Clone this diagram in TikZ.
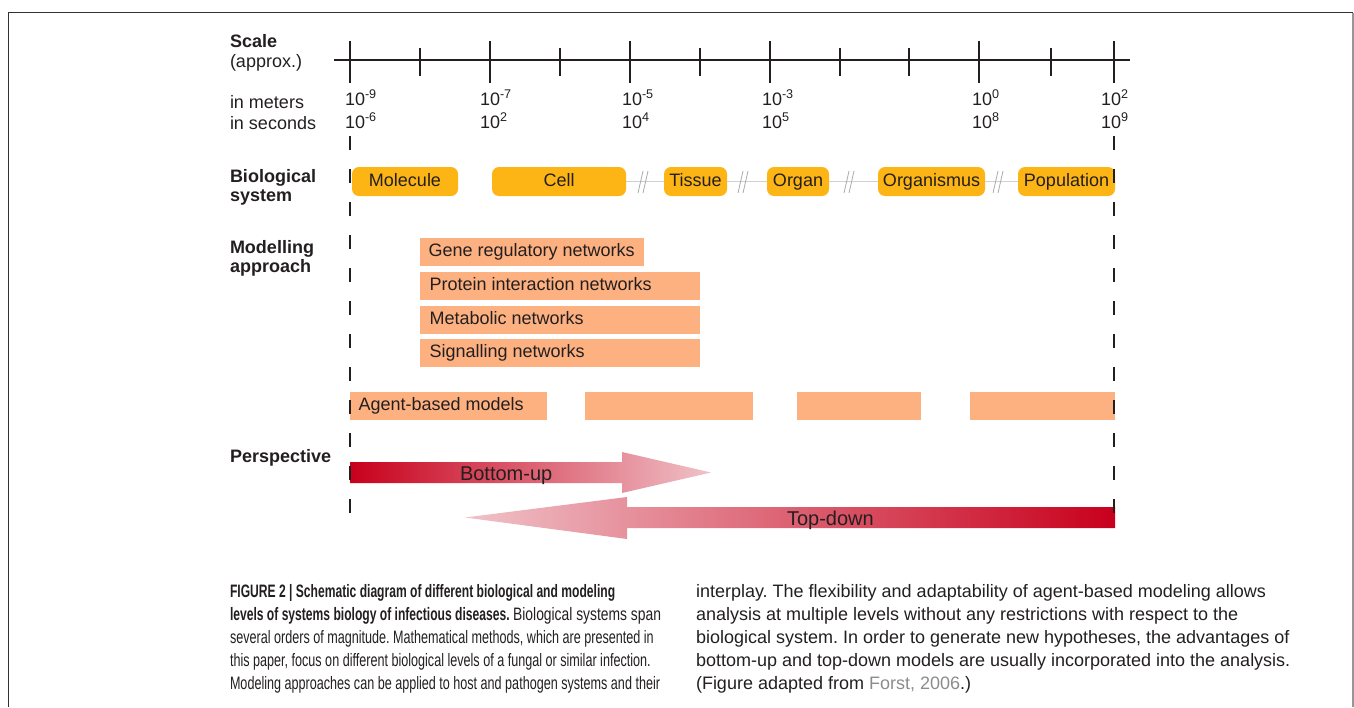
\documentclass[tikz,border=0pt]{standalone}
\usepackage{fontspec}
\setmainfont{Liberation Sans}
\newfontfamily\capfont[FakeStretch=0.70,BoldFeatures={FakeStretch=0.672}]{Liberation Sans}
\newfontfamily\capwide[FakeStretch=0.77]{Liberation Sans}
\usetikzlibrary{calc}
\definecolor{ink}{RGB}{35,31,32}
\definecolor{bioorange}{RGB}{253,181,21}
\definecolor{salmon}{RGB}{253,177,128}
\definecolor{darkred}{RGB}{200,0,28}
\definecolor{palepink}{RGB}{240,194,200}
\definecolor{linkgrey}{RGB}{208,208,208}
\definecolor{slashgrey}{RGB}{170,170,170}
\definecolor{citegrey}{RGB}{140,140,140}
\definecolor{framedark}{RGB}{50,50,50}
\definecolor{framelight}{RGB}{150,150,150}
\frenchspacing
\begin{document}
\begin{tikzpicture}[x=1pt,y=-1pt,
  every node/.style={inner sep=0pt, outer sep=0pt, text=ink},
  lab/.style={font=\fontsize{18}{20}\selectfont, anchor=base west},
  blab/.style={font=\fontsize{18}{20}\selectfont\bfseries, anchor=base west},
  biobox/.style={fill=bioorange, rounded corners=7pt, minimum height=29pt, font=\fontsize{18}{20}\selectfont, text height=12.9pt, text depth=3.6pt},
  modbox/.style={fill=salmon, minimum height=28pt, anchor=west, font=\fontsize{18}{20}\selectfont, text height=12.9pt, text depth=3.6pt},
  caplab/.style={font=\capfont\fontsize{18}{23}\selectfont, anchor=base west},
  capright/.style={font=\fontsize{18}{23}\selectfont, anchor=base west},
  axtick/.style={line width=2pt, draw=ink},
  guide/.style={line width=2pt, draw=ink, dash pattern=on 14pt off 19pt},
  link/.style={draw=linkgrey, line width=1.2pt},
  slashmark/.style={draw=slashgrey, line width=0.8pt},
  arrowlab/.style={font=\fontsize{20}{22}\selectfont, anchor=base west}
]
\useasboundingbox (0,0) rectangle (1354,707);
% frame
\coordinate (f1) at (8.5,707);
\coordinate (f2) at (8.5,12.5);
\coordinate (f3) at (1353,12.5);
\coordinate (f4) at (1353,707);
\draw[framedark, line width=1.5pt] (f1) -- (f2) -- (f3);
\draw[framelight, line width=1.5pt] (f3) -- (f4);

% left labels
\node[blab] (scale) at (230,47) {Scale};
\node[lab] (approx) at (230,67) {(approx.)};
\node[lab] (meters) at (230,108) {in meters};
\node[lab] (seconds) at (230,129) {in seconds};
\node[blab] (bio1) at (230,182) {Biological};
\node[blab] (bio2) at (230,201) {system};
\node[blab] (mod1) at (230,253) {Modelling};
\node[blab] (mod2) at (230,272) {approach};
\node[blab] (persp) at (230,462) {Perspective};

% axis
\coordinate (axL) at (334,60);
\coordinate (axR) at (1130,60);
\draw[axtick] (axL) -- (axR);
\foreach \x in {350,490,630,770,979,1114} \draw[axtick] (\x,41) -- (\x,83);
\foreach \x in {420,560,700,840,909,1051} \draw[axtick] (\x,48) -- (\x,76);

% tick labels
\node[lab] (m1) at (345,105) {10\textsuperscript{-9}};
\node[lab] (m2) at (480,105) {10\textsuperscript{-7}};
\node[lab] (m3) at (622,105) {10\textsuperscript{-5}};
\node[lab] (m4) at (762,105) {10\textsuperscript{-3}};
\node[lab] (m5) at (972,105) {10\textsuperscript{0}};
\node[lab] (m6) at (1101,105) {10\textsuperscript{2}};
\node[lab] (s1) at (345,128) {10\textsuperscript{-6}};
\node[lab] (s2) at (480,128) {10\textsuperscript{2}};
\node[lab] (s3) at (622,128) {10\textsuperscript{4}};
\node[lab] (s4) at (762,128) {10\textsuperscript{5}};
\node[lab] (s5) at (972,128) {10\textsuperscript{8}};
\node[lab] (s6) at (1101,128) {10\textsuperscript{9}};

% biological system
\node[biobox, minimum width=106pt] (mol) at (405,181.5) {Molecule};
\node[biobox, minimum width=134pt] (cell) at (559,181.5) {Cell};
\node[biobox, minimum width=63pt] (tis) at (695.5,181.5) {Tissue};
\node[biobox, minimum width=62pt] (org) at (798,181.5) {Organ};
\node[biobox, minimum width=107pt] (orgm) at (931.5,181.5) {Organismus};
\node[biobox, minimum width=97pt] (pop) at (1066.5,181.5) {Population};
\draw[link] (cell.east) -- (tis.west);
\draw[link] (tis.east) -- (org.west);
\draw[link] (org.east) -- (orgm.west);
\draw[link] (orgm.east) -- (pop.west);
\foreach \x in {641,741,847,996} {
  \draw[slashmark] (\x-3,193) -- (\x+2,171);
  \draw[slashmark] (\x+2,193) -- (\x+7,171);
}

% modelling approach
\node[modbox, minimum width=224pt] (gene) at (420,252) {\makebox[224pt][l]{\hspace{8.5pt}Gene regulatory networks}};
\node[modbox, minimum width=280pt] (prot) at (420,286) {\makebox[280pt][l]{\hspace{9.5pt}Protein interaction networks}};
\node[modbox, minimum width=280pt] (meta) at (420,319.5) {\makebox[280pt][l]{\hspace{9.5pt}Metabolic networks}};
\node[modbox, minimum width=280pt] (sig) at (420,353) {\makebox[280pt][l]{\hspace{9.5pt}Signalling networks}};

\node[modbox, minimum width=197pt] (ab1) at (350,406) {\makebox[197pt][l]{\hspace{8.5pt}Agent-based models}};
\node[modbox, minimum width=168pt] (ab2) at (585,406) {};
\node[modbox, minimum width=124pt] (ab3) at (797,406) {};
\node[modbox, minimum width=145pt] (ab4) at (970,406) {};

% perspective arrows
\shade[left color=darkred, right color=palepink]
  (350,462) -- (622,462) -- (622,452) -- (711,472.5) -- (622,493) -- (622,483) -- (350,483) -- cycle;
\node[arrowlab] (bu) at (460,480) {Bottom-up};
\shade[left color=palepink, right color=darkred]
  (1115,507) -- (627,507) -- (627,497) -- (465,517.5) -- (627,539) -- (627,528) -- (1115,528) -- cycle;
\node[arrowlab] (td) at (787,525) {Top-down};

% guide lines
\coordinate (gl1) at (350,136);
\coordinate (gl2) at (350,513);
\coordinate (gr1) at (1114,136);
\coordinate (gr2) at (1114,513);
\draw[guide] (gl1) -- (gl2);
\draw[guide] (gr1) -- (gr2);

% caption
\node[caplab] (c1) at (230,597) {\bfseries FIGURE 2 | Schematic diagram of different biological and modeling};
\node[caplab] (c2) at (230,620) {{\bfseries levels of systems biology of infectious diseases.} {\capwide Biological systems span}};
\node[caplab] (c3) at (230,643) {several orders of magnitude. Mathematical methods, which are presented in};
\node[caplab] (c4) at (230,666) {this paper, focus on different biological levels of a fungal or similar infection.};
\node[caplab] (c5) at (230,689) {Modeling approaches can be applied to host and pathogen systems and their};
\node[capright] (r1) at (696,597) {interplay. The flexibility and adaptability of agent-based modeling allows};
\node[capright] (r2) at (696,620) {analysis at multiple levels without any restrictions with respect to the};
\node[capright] (r3) at (696,643) {biological system. In order to generate new hypotheses, the advantages of};
\node[capright] (r4) at (696,666) {bottom-up and top-down models are usually incorporated into the analysis.};
\node[capright] (r5) at (696,689) {(Figure adapted from {\color{citegrey}Forst, 2006}.)};
\end{tikzpicture}
\end{document}
